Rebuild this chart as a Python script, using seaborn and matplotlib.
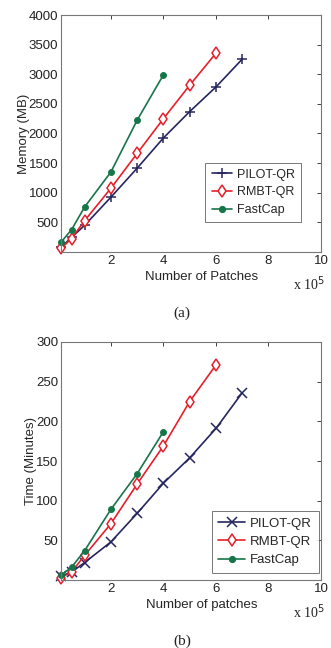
import numpy as np
import pandas as pd
import matplotlib
matplotlib.use("Agg")
import matplotlib.pyplot as plt
import seaborn as sns

# ---- data (x in units of 1e5 patches) ----
methods = ["PILOT-QR", "RMBT-QR", "FastCap"]

mem_pilot_x = [0.1, 0.5, 1, 2, 3, 4, 5, 6, 7]
mem_pilot_y = [80, 245, 450, 925, 1415, 1925, 2370, 2785, 3255]
mem_rmbt_x = [0.1, 0.5, 1, 2, 3, 4, 5, 6]
mem_rmbt_y = [60, 225, 530, 1075, 1665, 2250, 2815, 3355]
mem_fast_x = [0.1, 0.5, 1, 2, 3, 4]
mem_fast_y = [165, 375, 760, 1350, 2225, 2990]

time_pilot_x = [0.1, 0.5, 1, 2, 3, 4, 5, 6, 7]
time_pilot_y = [5, 10, 22, 48, 84, 122, 154, 191, 236]
time_rmbt_x = [0.1, 0.5, 1, 2, 3, 4, 5, 6]
time_rmbt_y = [3, 10, 31, 71, 121, 169, 225, 271]
time_fast_x = [0.1, 0.5, 1, 2, 3, 4]
time_fast_y = [6, 16, 37, 89, 134, 187]

mem_yticks = [500, 1000, 1500, 2000, 2500, 3000, 3500, 4000]
time_yticks = [50, 100, 150, 200, 250, 300]
xticks = [2, 4, 6, 8, 10]

colors = {"PILOT-QR": "#26265e", "RMBT-QR": "#e5202b", "FastCap": "#17754a"}

sns.set_style("white")
plt.rcParams["font.family"] = ["Liberation Sans", "DejaVu Sans"]

fig = plt.figure(figsize=(3.31, 6.48), dpi=100)
ax1 = fig.add_axes([61 / 331, 1 - 252 / 648, 260 / 331, 237 / 648])
ax2 = fig.add_axes([61 / 331, 1 - 580 / 648, 260 / 331, 238 / 648])


def marker_style(m, pilot_marker):
    c = colors[m]
    if m == "PILOT-QR":
        return dict(marker=pilot_marker, markersize=6.5, markeredgecolor=c,
                    markeredgewidth=1.1)
    if m == "RMBT-QR":
        return dict(marker="d", markersize=6.5, markerfacecolor="white",
                    markeredgecolor=c, markeredgewidth=1.1)
    return dict(marker="o", markersize=4.2, markerfacecolor=c, markeredgecolor=c)


def draw(ax, series, pilot_marker, yticks, ylim, ylabel, xlabel, panel, legend_loc,
         leg_fs, leg_hl):
    handles = []
    for m, (xs, ys) in zip(methods, series):
        sns.lineplot(x=xs, y=ys, ax=ax, color=colors[m], linewidth=1.2,
                     sort=False, clip_on=False, **marker_style(m, pilot_marker))
        handles.append(plt.Line2D([], [], color=colors[m], linewidth=1.2,
                                  **marker_style(m, pilot_marker)))
    ax.set_xlim(0.1, 10)
    ax.set_ylim(*ylim)
    ax.set_xticks(xticks)
    ax.set_yticks(yticks)
    ax.set_xticklabels([str(t) for t in xticks])
    ax.set_yticklabels([str(t) for t in yticks])
    ax.tick_params(direction="in", top=True, right=True, length=3,
                   labelsize=9.5, colors="#222222", pad=2, width=0.6)
    for s in ax.spines.values():
        s.set_color("#777777")
        s.set_linewidth(0.8)
    ax.set_xlabel(xlabel, fontsize=9.5, labelpad=3, x=0.54)
    ax.set_ylabel(ylabel, fontsize=9.5, labelpad=-1)
    leg = ax.legend(handles, methods, loc=legend_loc, fontsize=leg_fs, frameon=True,
                    fancybox=False, edgecolor="#555555", handlelength=leg_hl,
                    handletextpad=0.4, borderpad=0.5, labelspacing=0.45)
    leg.get_frame().set_linewidth(0.7)
    ax.text(0.955, -0.135, r"x 10$^5$", transform=ax.transAxes, ha="center",
            va="center", fontsize=10, family="Liberation Serif", color="#222222")
    ax.text(0.465, -0.258, panel, transform=ax.transAxes, ha="center",
            va="center", fontsize=11, family="Liberation Serif", color="#222222")


draw(ax1, [(mem_pilot_x, mem_pilot_y), (mem_rmbt_x, mem_rmbt_y), (mem_fast_x, mem_fast_y)],
     "+", mem_yticks, (0, 4000), "Memory (MB)", "Number of Patches", "(a)", (0.555, 0.125),
     9, 1.6)
draw(ax2, [(time_pilot_x, time_pilot_y), (time_rmbt_x, time_rmbt_y), (time_fast_x, time_fast_y)],
     "x", time_yticks, (0, 300), "Time (Minutes)", "Number of patches", "(b)", (0.58, 0.03),
     9.5, 2.0)

fig.savefig("out.png", dpi=100, facecolor="white")
